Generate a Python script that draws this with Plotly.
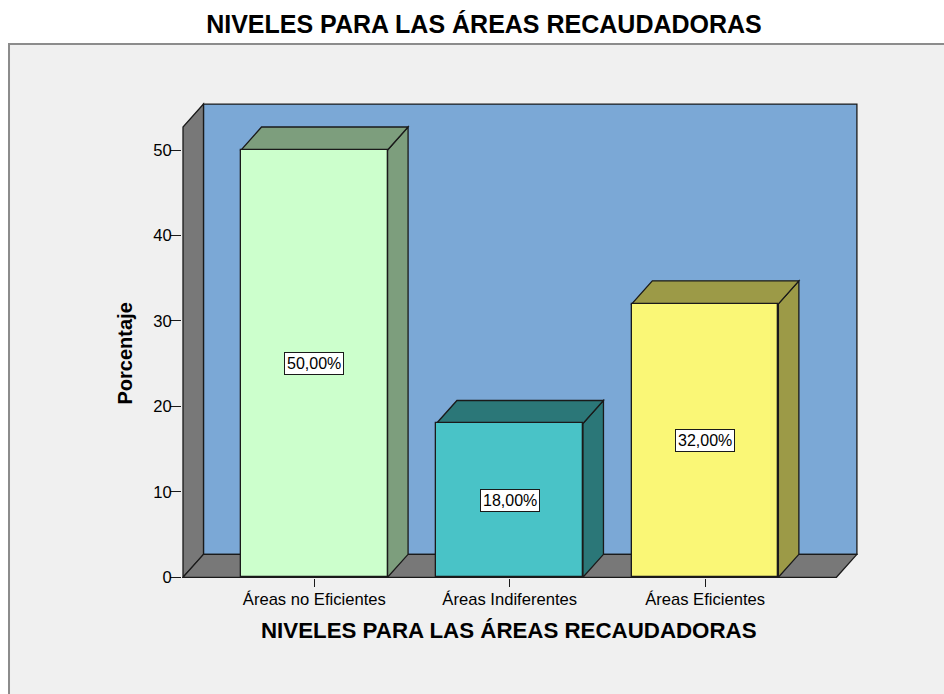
import plotly.graph_objects as go

# ---------------- data ----------------
categories = ["Áreas no Eficientes", "Áreas Indiferentes", "Áreas Eficientes"]
values = [50, 18, 32]
y_ticks = [0, 10, 20, 30, 40, 50]
title_text = "NIVELES PARA LAS ÁREAS RECAUDADORAS"
x_title = "NIVELES PARA LAS ÁREAS RECAUDADORAS"
y_title = "Porcentaje"

# ---------------- style ----------------
front_colors = ["#CCFFCC", "#49C3C7", "#FAF776"]
side_colors = ["#7D9E7D", "#2B7778", "#9C9A47"]
wall_blue = "#7BA8D6"
wall_gray = "#787878"
panel_bg = "#F0F0F0"
edge = "#1A1A1A"
FONT = "Liberation Sans, Arial, sans-serif"

BAR_W = 0.75          # bar width in category units
DX, DY = 0.1049, 2.69  # 3D depth offset in data units
PAD = 0.672           # frame padding beyond outer categories
Y_TOP = 52.69         # front top of frame
X_RANGE = [-0.6771, 2.7825]
Y_RANGE = [-0.0819, 55.617]

xs = list(range(len(categories)))
xl, xr = xs[0] - PAD, xs[-1] + PAD


def poly(pts):
    return "M " + " L ".join(f"{x},{y}" for x, y in pts) + " Z"


shapes = []
# panel background (paper)
shapes.append(dict(type="rect", xref="paper", yref="paper",
                   x0=-0.2559, x1=1.2, y0=-0.3, y1=1.1218,
                   fillcolor=panel_bg, line=dict(color="#8C8C8C", width=2),
                   layer="below"))
# back wall
shapes.append(dict(type="path", xref="x", yref="y", layer="below",
                   path=poly([(xl + DX, DY), (xr + DX, DY), (xr + DX, Y_TOP + DY), (xl + DX, Y_TOP + DY)]),
                   fillcolor=wall_blue, line=dict(color=edge, width=1.3)))
# left wall
shapes.append(dict(type="path", xref="x", yref="y", layer="below",
                   path=poly([(xl, 0), (xl, Y_TOP), (xl + DX, Y_TOP + DY), (xl + DX, DY)]),
                   fillcolor=wall_gray, line=dict(color=edge, width=1.3)))
# floor
shapes.append(dict(type="path", xref="x", yref="y", layer="below",
                   path=poly([(xl, 0), (xr, 0), (xr + DX, DY), (xl + DX, DY)]),
                   fillcolor=wall_gray, line=dict(color=edge, width=1.3)))

# bar top and side faces
for x, v, sc in zip(xs, values, side_colors):
    x0, x1 = x - BAR_W / 2, x + BAR_W / 2
    shapes.append(dict(type="path", xref="x", yref="y", layer="below",
                       path=poly([(x1, 0), (x1, v), (x1 + DX, v + DY), (x1 + DX, DY)]),
                       fillcolor=sc, line=dict(color=edge, width=1.3)))
    shapes.append(dict(type="path", xref="x", yref="y", layer="below",
                       path=poly([(x0, v), (x1, v), (x1 + DX, v + DY), (x0 + DX, v + DY)]),
                       fillcolor=sc, line=dict(color=edge, width=1.3)))

fig = go.Figure()
fig.add_trace(go.Bar(
    x=xs, y=values, width=BAR_W,
    marker=dict(color=front_colors, line=dict(color=edge, width=1.3)),
    hoverinfo="skip", showlegend=False,
))

annotations = []
for x, v in zip(xs, values):
    annotations.append(dict(
        x=x, y=v / 2, xref="x", yref="y",
        text=f"{v:.2f}".replace(".", ",") + "%",
        showarrow=False, bgcolor="white", bordercolor=edge, borderwidth=1,
        borderpad=2, font=dict(family=FONT, size=16, color="black"),
    ))
# x axis title
annotations.append(dict(
    x=0.4837, y=-0.111, xref="paper", yref="paper", text=x_title,
    showarrow=False, xanchor="center", yanchor="middle",
    font=dict(family=FONT, size=22.3, color="black", weight="bold"),
))
# y axis title
annotations.append(dict(
    x=-0.0836, y=0.4727, xref="paper", yref="paper", text=y_title,
    showarrow=False, xanchor="center", yanchor="middle", textangle=-90,
    font=dict(family=FONT, size=20, color="black", weight="bold"),
))

fig.update_layout(
    width=944, height=694,
    margin=dict(l=182, r=86, t=102, b=116, autoexpand=False),
    paper_bgcolor="white", plot_bgcolor="rgba(0,0,0,0)",
    title=dict(text=title_text, x=0.5127, y=1 - 24.5 / 694, xanchor="center", yanchor="middle",
               xref="container", yref="container",
               font=dict(family=FONT, size=25, color="black", weight="bold")),
    xaxis=dict(range=X_RANGE, tickvals=xs, ticktext=categories, ticks="outside",
               ticklen=8, tickwidth=1.3, tickcolor=edge, showgrid=False, zeroline=False,
               showline=False, fixedrange=True, ticklabelstandoff=-2,
               tickfont=dict(family=FONT, size=16.6, color="black")),
    yaxis=dict(range=Y_RANGE, tickvals=y_ticks, ticks="outside", ticklen=11,
               tickwidth=1.3, tickcolor=edge, showgrid=False, zeroline=False,
               showline=False, fixedrange=True, ticklabelstandoff=-5,
               tickfont=dict(family=FONT, size=16.6, color="black")),
    shapes=shapes, annotations=annotations, bargap=0,
)

fig.write_html("out.html", config={"displayModeBar": False},
               post_script="document.body.style.margin='0px';document.body.style.overflow='hidden';")
